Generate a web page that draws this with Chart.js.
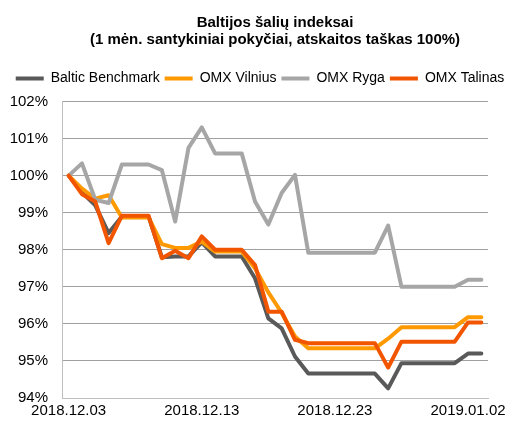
<!DOCTYPE html>
<html>
<head>
<meta charset="utf-8">
<script src="https://cdn.jsdelivr.net/npm/chart.js@4/dist/chart.umd.min.js"></script>
<style>
html,body{margin:0;padding:0;background:#fff;}
#wrap{width:510px;height:421px;position:relative;}
</style>
</head>
<body>
<div id="wrap"><canvas id="c"></canvas></div>
<script>
const categories = ["2018.12.03","2018.12.04","2018.12.05","2018.12.06","2018.12.07","2018.12.08","2018.12.09","2018.12.10","2018.12.11","2018.12.12","2018.12.13","2018.12.14","2018.12.15","2018.12.16","2018.12.17","2018.12.18","2018.12.19","2018.12.20","2018.12.21","2018.12.22","2018.12.23","2018.12.24","2018.12.25","2018.12.26","2018.12.27","2018.12.28","2018.12.29","2018.12.30","2018.12.31","2019.01.01","2019.01.02","2019.01.03"];
const balticBenchmark = [100,99.55,99.2,98.45,98.9,98.9,98.9,97.8,97.82,97.82,98.2,97.82,97.82,97.82,97.23,96.15,95.88,95.12,94.66,94.66,94.66,94.66,94.66,94.66,94.26,94.94,94.94,94.94,94.94,94.94,95.2,95.2];
const omxVilnius = [100,99.65,99.38,99.47,98.87,98.87,98.87,98.15,98.05,98.05,98.22,97.95,97.95,97.95,97.5,96.85,96.3,95.66,95.34,95.34,95.34,95.34,95.34,95.34,95.6,95.91,95.91,95.91,95.91,95.91,96.18,96.18];
const omxRyga = [100,100.33,99.35,99.26,100.3,100.3,100.3,100.15,98.76,100.75,101.3,100.6,100.6,100.6,99.3,98.68,99.53,100.02,97.92,97.92,97.92,97.92,97.92,97.92,98.65,97.0,97.0,97.0,97.0,97.0,97.19,97.19];
const omxTalinas = [100,99.5,99.3,98.18,98.92,98.92,98.92,97.77,97.97,97.77,98.36,98.0,98.0,98.0,97.59,96.33,96.33,95.57,95.48,95.48,95.48,95.48,95.48,95.48,94.82,95.52,95.52,95.52,95.52,95.52,96.04,96.04];
const seriesNames = ["Baltic Benchmark","OMX Vilnius","OMX Ryga","OMX Talinas"];
const titleLines = ["Baltijos šalių indeksai","(1 mėn. santykiniai pokyčiai, atskaitos taškas 100%)"];
const yTicks = [94,95,96,97,98,99,100,101,102];

const colors = ["#595959","#FF9900","#A6A6A6","#F25500"];
const values = [balticBenchmark, omxVilnius, omxRyga, omxTalinas];
const FONT = "'Liberation Sans', Arial, sans-serif";

const datasets = values.map((v,i)=>({
  label: seriesNames[i],
  data: v,
  borderColor: colors[i],
  backgroundColor: colors[i],
  borderWidth: 4,
  pointRadius: 0,
  pointHoverRadius: 0,
  tension: 0,
  borderJoinStyle: 'round',
  borderCapStyle: 'round',
  pointStyle: 'line',
  order: 4 - i
}));

new Chart(document.getElementById('c'), {
  type: 'line',
  data: { labels: categories, datasets },
  options: {
    responsive: true,
    maintainAspectRatio: false,
    animation: false,
    layout: { padding: { left: 10, right: 0, top: 2, bottom: 0 } },
    plugins: {
      tooltip: { enabled: false },
      title: {
        display: true,
        text: titleLines,
        color: '#000',
        font: { family: FONT, size: 15, weight: 'bold', lineHeight: 1.15 },
        padding: { top: 12, bottom: 18 },
        fullSize: false
      },
      legend: {
        display: true,
        position: 'top',
        labels: {
          color: '#000',
          font: { family: FONT, size: 14 },
          usePointStyle: true,
          pointStyleWidth: 28,
          boxHeight: 4,
          padding: 5,
          sort: (a,b) => a.datasetIndex - b.datasetIndex
        }
      }
    },
    scales: {
      x: {
        offset: true,
        grid: { display: false, drawTicks: false },
        border: { display: true, color: '#BFBFBF', width: 1 },
        afterFit: (s) => { s.paddingRight = 22; s.height = 23; },
        ticks: {
          autoSkip: false,
          maxRotation: 0,
          padding: 4,
          color: '#000',
          font: { family: FONT, size: 15 },
          callback: function(val, idx) { return idx % 10 === 0 ? categories[idx] : ''; }
        }
      },
      xTopGap: {
        type: 'category',
        position: 'top',
        display: true,
        grid: { display: false, drawTicks: false },
        border: { display: false },
        ticks: { display: false },
        afterFit: (s) => { s.height = 6; s.paddingLeft = 0; s.paddingRight = 0; }
      },
      y: {
        min: yTicks[0],
        max: yTicks[yTicks.length-1],
        afterBuildTicks: (scale) => { scale.ticks = yTicks.map(v => ({ value: v })); },
        afterFit: (s) => { s.width = 52; },
        grid: { color: '#A0A0A0', drawTicks: false, lineWidth: 1 },
        border: { display: true, color: '#BFBFBF', width: 1 },
        ticks: {
          padding: 14,
          color: '#000',
          font: { family: FONT, size: 15 },
          callback: (v) => v + '%'
        }
      }
    }
  }
});
</script>
</body>
</html>
